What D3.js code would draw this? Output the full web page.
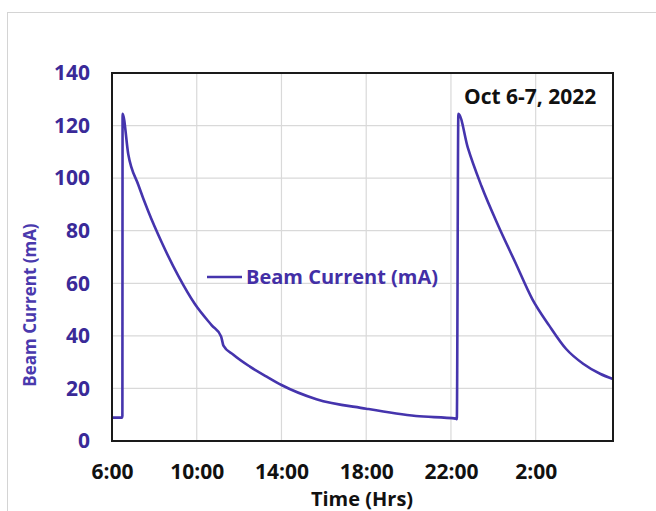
<!DOCTYPE html>
<html>
<head>
<meta charset="utf-8">
<script src="https://cdn.jsdelivr.net/npm/d3@7"></script>
<style>
  body { margin: 0; background: #fff; }
  svg { display: block; font-family: "Open Sans", "Liberation Sans", sans-serif; }
</style>
</head>
<body>
<div id="chart"></div>
<script>
// hours since midnight Oct 6 (values > 24 are Oct 7)
const hours = [6.0, 6.48, 6.49, 6.5, 6.77, 7.24, 7.72, 8.35, 9.13, 9.92, 10.71, 11.15,
  11.26, 11.73, 12.51, 13.3, 14.0, 15.65, 18.0, 20.35, 22.24, 22.27, 22.28, 22.35,
  22.8, 23.44, 24.24, 25.04, 25.84, 26.64, 27.44, 28.24, 29.04, 29.65];
const current = [8.9, 8.9, 9.5, 124.5, 109.0, 97.5, 87.2, 75.5, 62.8, 52.0, 44.0, 39.8,
  36.3, 32.8, 28.3, 24.5, 21.3, 15.9, 12.3, 9.5, 8.5, 8.3, 9.0, 124.5,
  111.5, 97.0, 81.8, 67.9, 54.0, 43.9, 35.0, 29.4, 25.6, 23.6];
const xTicks = [6, 10, 14, 18, 22, 26];
const yTicks = [0, 20, 40, 60, 80, 100, 120, 140];

const width = 656, height = 511;
const margin = { top: 73, right: 43, bottom: 70, left: 112 };
const purple = "#4534ad";

const svg = d3.select("#chart")
  .append("svg")
  .attr("width", width)
  .attr("height", height);

// outer frame
svg.append("rect")
  .attr("x", 7.5).attr("y", 12.5)
  .attr("width", 700).attr("height", 600)
  .attr("fill", "none")
  .attr("stroke", "#d4d4d4");

const x = d3.scaleLinear()
  .domain([6, 29.65])
  .range([margin.left, width - margin.right]);
const y = d3.scaleLinear()
  .domain([0, 140])
  .range([height - margin.bottom, margin.top]);

// gridlines
svg.append("g")
  .attr("stroke", "#d9d9d9")
  .attr("stroke-width", 1.2)
  .call(g => g.selectAll(".h").data(yTicks.slice(1, -1)).join("line")
    .attr("x1", margin.left).attr("x2", width - margin.right)
    .attr("y1", d => y(d)).attr("y2", d => y(d)))
  .call(g => g.selectAll(".v").data(xTicks.slice(1)).join("line")
    .attr("y1", margin.top).attr("y2", height - margin.bottom)
    .attr("x1", d => x(d)).attr("x2", d => x(d)));

// axes (labels only)
const xAxis = svg.append("g")
  .attr("transform", `translate(0,${height - margin.bottom})`)
  .call(d3.axisBottom(x).tickValues(xTicks).tickSize(0).tickPadding(23)
    .tickFormat(d => (d % 24) + ":00"));
xAxis.select(".domain").remove();
xAxis.selectAll("text")
  .attr("font-family", "'Open Sans', sans-serif")
  .attr("font-size", 21)
  .attr("font-weight", "bold")
  .attr("fill", "#111");

const yAxis = svg.append("g")
  .attr("transform", `translate(${margin.left},0)`)
  .call(d3.axisLeft(y).tickValues(yTicks).tickSize(0).tickPadding(22));
yAxis.select(".domain").remove();
yAxis.selectAll("text")
  .attr("font-family", "'Open Sans', sans-serif")
  .attr("font-size", 21)
  .attr("font-weight", "bold")
  .attr("fill", "#3a2a98");

// the line
const line = d3.line()
  .x((d, i) => x(hours[i]))
  .y(d => y(d))
  .curve(d3.curveMonotoneX);

svg.append("path")
  .datum(current)
  .attr("fill", "none")
  .attr("stroke", purple)
  .attr("stroke-width", 2.6)
  .attr("stroke-linejoin", "round")
  .attr("d", line);

// plot border
svg.append("rect")
  .attr("x", margin.left).attr("y", margin.top)
  .attr("width", width - margin.left - margin.right)
  .attr("height", height - margin.top - margin.bottom)
  .attr("fill", "none")
  .attr("stroke", "#1a1a1a")
  .attr("stroke-width", 2);

// legend
svg.append("line")
  .attr("x1", 207).attr("x2", 242)
  .attr("y1", 277).attr("y2", 277)
  .attr("stroke", purple)
  .attr("stroke-width", 2.6);
svg.append("text")
  .attr("x", 246).attr("y", 284)
  .attr("font-size", 20)
  .attr("font-weight", "bold")
  .attr("fill", "#432fa6")
  .text("Beam Current (mA)");

// date note
svg.append("text")
  .attr("x", 464).attr("y", 104)
  .attr("font-size", 21)
  .attr("font-weight", "bold")
  .attr("fill", "#111")
  .text("Oct 6-7, 2022");

// axis titles
svg.append("text")
  .attr("transform", "translate(36,305) rotate(-90)")
  .attr("text-anchor", "middle")
  .attr("font-size", 17)
  .attr("font-weight", "bold")
  .attr("fill", "#4a39ad")
  .text("Beam Current (mA)");

svg.append("text")
  .attr("x", 362).attr("y", 506)
  .attr("text-anchor", "middle")
  .attr("font-size", 20)
  .attr("font-weight", "bold")
  .attr("fill", "#111")
  .text("Time (Hrs)");
</script>
</body>
</html>
